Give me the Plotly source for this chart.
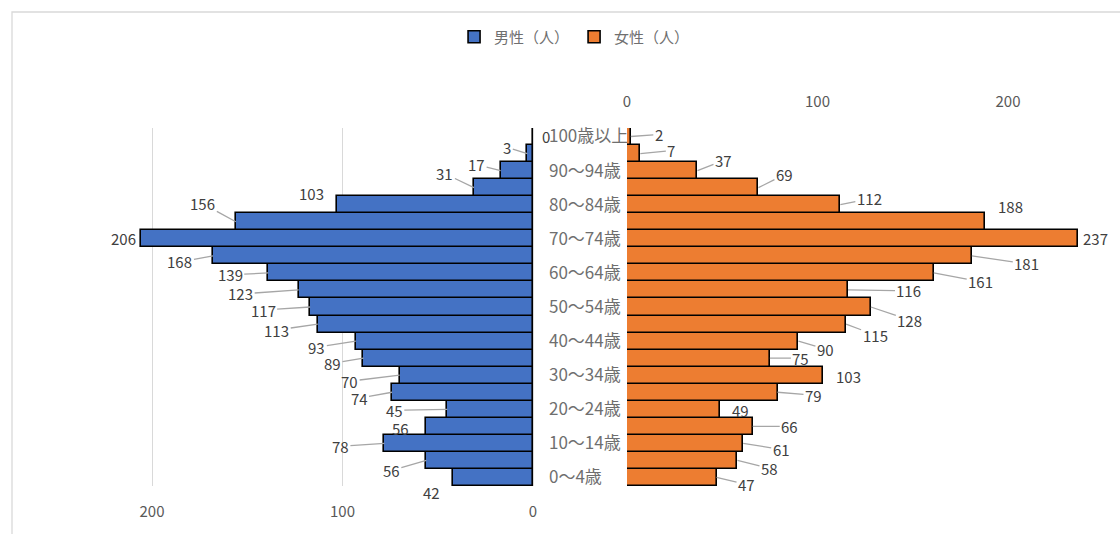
import plotly.graph_objects as go

# Age groups from youngest (bottom) to oldest (top)
age_groups = [
    "0～4歳", "5～9歳", "10～14歳", "15～19歳", "20～24歳", "25～29歳",
    "30～34歳", "35～39歳", "40～44歳", "45～49歳", "50～54歳", "55～59歳",
    "60～64歳", "65～69歳", "70～74歳", "75～79歳", "80～84歳", "85～89歳",
    "90～94歳", "95～99歳", "100歳以上",
]
male = [42, 56, 78, 56, 45, 74, 70, 89, 93, 113, 117, 123, 139, 168, 206,
        156, 103, 31, 17, 3, 0]
female = [47, 58, 61, 66, 49, 79, 103, 75, 90, 115, 128, 116, 161, 181, 237,
          188, 112, 69, 37, 7, 2]
series_names = ["男性（人）", "女性（人）"]
value_ticks = [0, 100, 200]
shown_age_labels = age_groups[::2]

# ---- geometry (pixels in a 1120 x 534 canvas) ----
W, H = 1120, 534
PX_PER_UNIT = 1.905
MALE_ZERO_PX = 533
FEMALE_ZERO_PX = 627
PLOT_TOP_PX, PLOT_BOTTOM_PX = 128, 486

FONT = "Noto Sans CJK JP"
TICK_COLOR = "#595959"
AGE_COLOR = "#6f6f6f"
LABEL_COLOR = "#404040"
LEADER_COLOR = "#a6a6a6"
GRID_COLOR = "#d9d9d9"
BLUE = "#4472C4"
ORANGE = "#ED7D31"

# label placement: (dx, dy) pixel offset of each value label from its bar end,
# plus whether a leader line is drawn
male_label_pos = [
    (-21, 15, False), (-35, 10, True), (-44, 3, True), (-26, 2, False),
    (-53, 1, True), (-33, 6, True), (-50, 6, True), (-31, 5, True),
    (-39, 6, True), (-41, 6, True), (-47, 3, True), (-58, 4, True),
    (-38, 2, True), (-33, 6, True), (-17, 0, False), (-33, -18, True),
    (-25, -11, False), (-29, -14, True), (-24, -6, True), (-20, -6, True),
    (13, 0, False),
]
female_label_pos = [
    (30, 7, True), (32, 8, True), (38, 6, True), (37, 0, True),
    (20, 1, False), (36, 3, True), (25, 1, False), (31, 0, True),
    (27, 8, True), (29, 11, True), (39, 13, True), (61, 1, True),
    (47, 9, True), (55, 8, True), (17, 0, False), (25, -15, False),
    (29, -6, True), (26, -13, True), (26, -10, True), (31, -3, True),
    (28, -2, True),
]

fig = go.Figure()

# empty trace so the full-width scale axis is rendered
fig.add_trace(go.Scatter(x=[None], y=[age_groups[0]], xaxis="x", yaxis="y",
                         showlegend=False, hoverinfo="skip"))

fig.add_trace(go.Bar(
    y=age_groups, x=male, orientation="h", name=series_names[0],
    xaxis="x2", yaxis="y",
    marker=dict(color=BLUE, line=dict(color="#000000", width=1.6)),
))
fig.add_trace(go.Bar(
    y=age_groups, x=female, orientation="h", name=series_names[1],
    xaxis="x3", yaxis="y",
    marker=dict(color=ORANGE, line=dict(color="#000000", width=1.6)),
))


def value_labels(values, positions, xref):
    out = []
    for cat, v, (dx, dy, leader) in zip(age_groups, values, positions):
        a = dict(x=v, y=cat, xref=xref, yref="y", text=str(v),
                 font=dict(family=FONT, size=15, color=LABEL_COLOR))
        if leader:
            a.update(showarrow=True, arrowhead=0, arrowwidth=1.3,
                     arrowcolor=LEADER_COLOR, ax=dx, ay=dy, standoff=0)
        else:
            a.update(showarrow=False, xshift=dx, yshift=-dy)
        out.append(a)
    return out


annotations = value_labels(male, male_label_pos, "x2") + \
    value_labels(female, female_label_pos, "x3")

y_domain = [(H - PLOT_BOTTOM_PX) / H, (H - PLOT_TOP_PX) / H]

# chart-area border: only the top and left edges fall inside the canvas
fx, fy = 12 / W, (H - 12) / H
frame_path = f"M {fx},0 L {fx},{fy} L 1,{fy}"

fig.update_layout(
    width=W, height=H,
    margin=dict(l=0, r=0, t=0, b=0, autoexpand=False),
    paper_bgcolor="white",
    plot_bgcolor="rgba(0,0,0,0)",
    font=dict(family=FONT, size=15, color=TICK_COLOR),
    barmode="overlay",
    bargap=0,
    showlegend=True,
    legend=dict(orientation="h", x=0.513, xanchor="center",
                y=(H - 37) / H, yanchor="middle",
                font=dict(family=FONT, size=15, color=AGE_COLOR),
                itemwidth=30, bgcolor="rgba(0,0,0,0)"),
    # full-width axis in male units (0 at the male baseline, males to the
    # left): vertical gridlines every 100 people and the male value labels
    xaxis=dict(
        domain=[0, 1], anchor="y", side="bottom", automargin=False,
        range=[-MALE_ZERO_PX / PX_PER_UNIT, (W - MALE_ZERO_PX) / PX_PER_UNIT],
        tick0=0, dtick=100, showgrid=True, gridcolor=GRID_COLOR, gridwidth=1.3,
        zeroline=False, showline=False,
        ticks="outside", ticklen=12, tickcolor="rgba(0,0,0,0)",
        tickfont=dict(family=FONT, size=15, color=TICK_COLOR),
        tickmode="array",
        tickvals=[-v for v in value_ticks],
        ticktext=[str(v) for v in value_ticks],
    ),
    # male axis (reversed)
    xaxis2=dict(
        domain=[0, MALE_ZERO_PX / W], anchor="y", automargin=False,
        range=[MALE_ZERO_PX / PX_PER_UNIT, 0],
        showticklabels=False, ticks="",
        showgrid=False, zeroline=False, showline=False,
    ),
    # female axis (labels at top)
    xaxis3=dict(
        domain=[FEMALE_ZERO_PX / W, 1], anchor="y", side="top",
        automargin=False,
        range=[0, (W - FEMALE_ZERO_PX) / PX_PER_UNIT],
        tickmode="array", tickvals=value_ticks,
        showgrid=False, zeroline=False, showline=False,
        ticks="outside", ticklen=14, tickcolor="rgba(0,0,0,0)",
        tickfont=dict(family=FONT, size=15, color=TICK_COLOR),
    ),
    yaxis=dict(
        domain=y_domain, anchor="free", position=545 / W, side="left",
        automargin=False,
        type="category", categoryorder="array", categoryarray=age_groups,
        range=[-0.5, len(age_groups) - 0.5],
        tickmode="array", tickvals=shown_age_labels, ticktext=shown_age_labels,
        ticklabelposition="inside", ticklabeloverflow="allow",
        ticks="", showgrid=False, zeroline=False, showline=False,
        tickfont=dict(family=FONT, size=17, color=AGE_COLOR),
    ),
    annotations=annotations,
    shapes=[dict(type="path", xref="paper", yref="paper", path=frame_path,
                 line=dict(color=GRID_COLOR, width=1.3), layer="below")],
)

fig.write_html("out.html")
